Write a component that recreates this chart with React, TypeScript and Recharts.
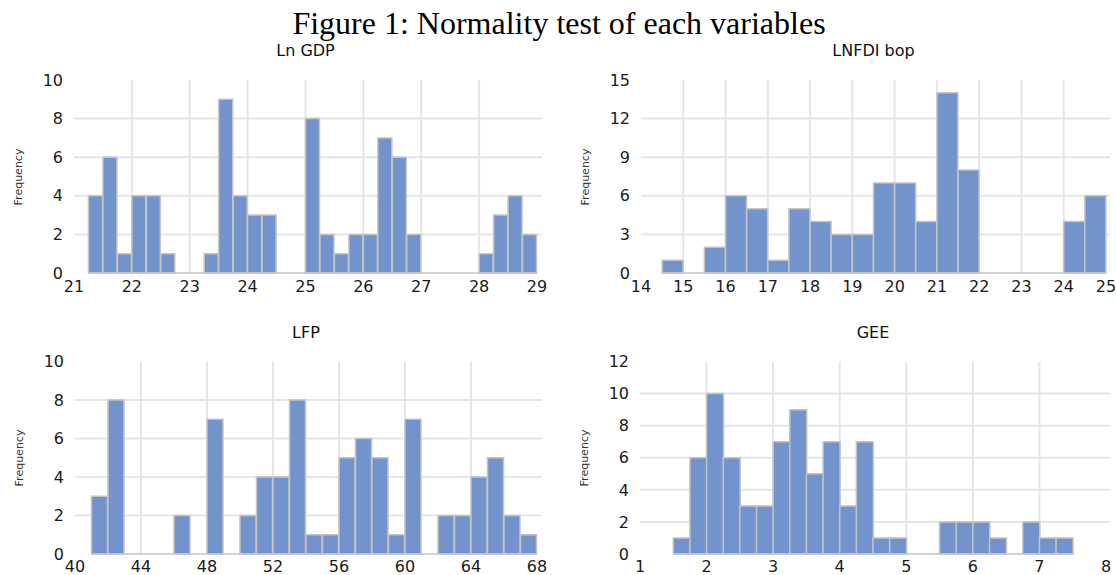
import React from "react";
import { Bar, BarChart, CartesianGrid, ReferenceLine, XAxis, YAxis } from "recharts";

// Ln GDP, bins of 0.25 (lower edges)
const gdpBinStarts = [
  21.25, 21.5, 21.75, 22, 22.25, 22.5, 22.75, 23, 23.25, 23.5, 23.75, 24, 24.25, 24.5, 24.75, 25,
  25.25, 25.5, 25.75, 26, 26.25, 26.5, 26.75, 27, 27.25, 27.5, 27.75, 28, 28.25, 28.5, 28.75,
];
const gdpCounts = [4, 6, 1, 4, 4, 1, 0, 0, 1, 9, 4, 3, 3, 0, 0, 8, 2, 1, 2, 2, 7, 6, 2, 0, 0, 0, 0, 1, 3, 4, 2];
const gdpXTicks = [21, 22, 23, 24, 25, 26, 27, 28, 29];
const gdpYTicks = [0, 2, 4, 6, 8, 10];

// LNFDI bop, bins of 0.5
const fdiBinStarts = [14.5, 15, 15.5, 16, 16.5, 17, 17.5, 18, 18.5, 19, 19.5, 20, 20.5, 21, 21.5, 22, 22.5, 23, 23.5, 24, 24.5];
const fdiCounts = [1, 0, 2, 6, 5, 1, 5, 4, 3, 3, 7, 7, 4, 14, 8, 0, 0, 0, 0, 4, 6];
const fdiXTicks = [14, 15, 16, 17, 18, 19, 20, 21, 22, 23, 24, 25];
const fdiYTicks = [0, 3, 6, 9, 12, 15];

// LFP, bins of 1
const lfpBinStarts = [41, 42, 43, 44, 45, 46, 47, 48, 49, 50, 51, 52, 53, 54, 55, 56, 57, 58, 59, 60, 61, 62, 63, 64, 65, 66, 67];
const lfpCounts = [3, 8, 0, 0, 0, 2, 0, 7, 0, 2, 4, 4, 8, 1, 1, 5, 6, 5, 1, 7, 0, 2, 2, 4, 5, 2, 1];
const lfpXTicks = [40, 44, 48, 52, 56, 60, 64, 68];
const lfpYTicks = [0, 2, 4, 6, 8, 10];

// GEE, bins of 0.25
const geeBinStarts = [
  1.5, 1.75, 2, 2.25, 2.5, 2.75, 3, 3.25, 3.5, 3.75, 4, 4.25, 4.5, 4.75, 5, 5.25, 5.5, 5.75, 6, 6.25, 6.5, 6.75, 7, 7.25,
];
const geeCounts = [1, 6, 10, 6, 3, 3, 7, 9, 5, 7, 3, 7, 1, 1, 0, 0, 2, 2, 2, 1, 0, 2, 1, 1];
const geeXTicks = [1, 2, 3, 4, 5, 6, 7, 8];
const geeYTicks = [0, 2, 4, 6, 8, 10, 12];

const SANS = "'DejaVu Sans', Verdana, sans-serif";
const BAR_FILL = "#7293cb";
const BAR_STROKE = "#c4c4c4";
const GRID = "#e6e6e6";

type PanelProps = {
  title: string;
  starts: number[];
  binWidth: number;
  counts: number[];
  xTicks: number[];
  yTicks: number[];
  left: number;
  top: number;
  w: number;
  h: number;
  plotLeft: number;
  plotRight: number;
  pad: number;
  plotTop: number;
  plotBottom: number;
  xTickMargin: number;
};

function Panel(p: PanelProps) {
  const data = p.starts.map((s, i) => ({ x: s + p.binWidth / 2, count: p.counts[i] }));
  const lo = p.starts[0];
  const hi = p.starts[p.starts.length - 1] + p.binWidth;
  const xMin = p.xTicks[0];
  const xMax = p.xTicks[p.xTicks.length - 1];
  const yMax = p.yTicks[p.yTicks.length - 1];
  const tick = { fontSize: 16, fontFamily: SANS, fill: "#1a1a1a" };
  const midX = (p.plotLeft + p.plotRight) / 2;
  const midY = (p.plotTop + p.plotBottom) / 2;

  return (
    <>
      <div
        style={{
          position: "absolute",
          left: midX,
          top: p.plotTop - 37,
          transform: "translateX(-50%)",
          font: `16px ${SANS}`,
          lineHeight: "16px",
          whiteSpace: "nowrap",
          color: "#111",
        }}
      >
        {p.title}
      </div>
      <div
        style={{
          position: "absolute",
          left: p.plotLeft - 56,
          top: midY,
          transform: "translate(-50%, -50%) rotate(-90deg)",
          font: `11px ${SANS}`,
          whiteSpace: "nowrap",
          color: "#333",
        }}
      >
        Frequency
      </div>
      <div style={{ position: "absolute", left: p.left, top: p.top }}>
        <BarChart
          width={p.w}
          height={p.h}
          data={data}
          barCategoryGap={0}
          barGap={0}
          margin={{ top: p.plotTop - p.top, left: 0, right: p.left + p.w - (p.plotRight + p.pad), bottom: 0 }}
        >
          <CartesianGrid
            stroke={GRID}
            strokeWidth={2}
            horizontalValues={p.yTicks.slice(1, -1)}
            verticalValues={p.xTicks.slice(1, -1)}
          />
          <XAxis
            dataKey="x"
            type="number"
            domain={[xMin, xMax]}
            ticks={p.xTicks}
            interval={0}
            padding={{ left: 0, right: p.pad }}
            axisLine={false}
            tickLine={false}
            tickSize={0}
            tickMargin={p.xTickMargin}
            height={p.top + p.h - p.plotBottom}
            tick={tick}
          />
          <YAxis
            type="number"
            domain={[0, yMax]}
            ticks={p.yTicks}
            interval={0}
            axisLine={false}
            tickLine={false}
            tickSize={0}
            tickMargin={11}
            width={p.plotLeft - p.left}
            tick={tick}
          />
          <Bar dataKey="count" fill={BAR_FILL} stroke={BAR_STROKE} strokeWidth={1.5} isAnimationActive={false} />
          <ReferenceLine
            segment={[
              { x: lo, y: 0 },
              { x: hi, y: 0 },
            ]}
            stroke={BAR_STROKE}
            strokeWidth={1.5}
          />
        </BarChart>
      </div>
    </>
  );
}

export default function App() {
  return (
    <div
      style={{
        position: "absolute",
        left: 0,
        top: 0,
        width: 1116,
        height: 575,
        overflow: "hidden",
        background: "#fff",
      }}
    >
      <div
        style={{
          position: "absolute",
          left: 559,
          top: 7,
          transform: "translateX(-50%)",
          font: "32px 'Liberation Serif', 'Times New Roman', serif",
          lineHeight: "32px",
          whiteSpace: "nowrap",
          color: "#000",
        }}
      >
        Figure 1: Normality test of each variables
      </div>
      <Panel
        title="Ln GDP"
        starts={gdpBinStarts}
        binWidth={0.25}
        counts={gdpCounts}
        xTicks={gdpXTicks}
        yTicks={gdpYTicks}
        left={0}
        top={0}
        w={558}
        h={300}
        plotLeft={74}
        plotRight={537}
        pad={5}
        plotTop={80}
        plotBottom={273}
        xTickMargin={8}
      />
      <Panel
        title="LNFDI bop"
        starts={fdiBinStarts}
        binWidth={0.5}
        counts={fdiCounts}
        xTicks={fdiXTicks}
        yTicks={fdiYTicks}
        left={560}
        top={0}
        w={556}
        h={300}
        plotLeft={641}
        plotRight={1106}
        pad={4}
        plotTop={80}
        plotBottom={273}
        xTickMargin={8}
      />
      <Panel
        title="LFP"
        starts={lfpBinStarts}
        binWidth={1}
        counts={lfpCounts}
        xTicks={lfpXTicks}
        yTicks={lfpYTicks}
        left={0}
        top={290}
        w={558}
        h={285}
        plotLeft={75}
        plotRight={537}
        pad={5}
        plotTop={361.5}
        plotBottom={554}
        xTickMargin={7}
      />
      <Panel
        title="GEE"
        starts={geeBinStarts}
        binWidth={0.25}
        counts={geeCounts}
        xTicks={geeXTicks}
        yTicks={geeYTicks}
        left={560}
        top={290}
        w={556}
        h={285}
        plotLeft={640}
        plotRight={1106}
        pad={4}
        plotTop={361.5}
        plotBottom={554}
        xTickMargin={7}
      />
    </div>
  );
}
